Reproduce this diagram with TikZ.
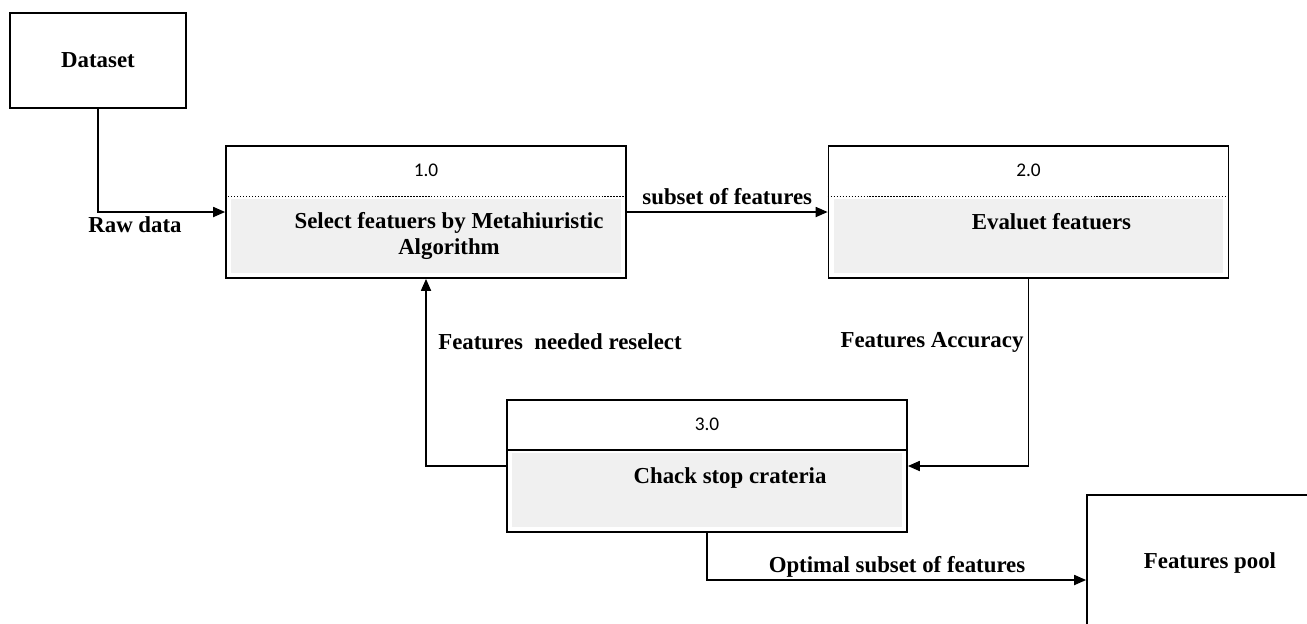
\documentclass[tikz,border=0pt]{standalone}
\usepackage{fontspec}
\setmainfont{Liberation Serif}
\newfontfamily\numfont{Carlito}
\usetikzlibrary{positioning, arrows.meta, calc}
\definecolor{boxgray}{HTML}{F0F0F0}

\begin{document}
\begin{tikzpicture}[x=0.02cm, y=-0.02cm, >={Triangle[length=0.24cm, width=0.2cm]},
		proc/.style={draw, line width=1pt, minimum width=8cm, minimum height=2.64cm, inner sep=0pt},
		ent/.style={draw, line width=1pt, inner sep=0pt},
		flow/.style={->, line width=1pt},
		txt/.style={font=\fontsize{13}{14.7}\selectfont\bfseries},
		num/.style={font=\numfont\fontsize{11}{13}\selectfont}]
		
		\clip (0,0) rectangle (1307,623);
		
		% Source and sink
		\node[ent, txt, minimum width=3.52cm, minimum height=1.9cm] (data) at (98,60.5) {Dataset};
		\node[ent, minimum width=5.06cm, minimum height=3.4cm] (pool) at (1213.5,580) {};
		\node[txt] (poollbl) at (1210,563) {Features pool};
		
		% Process boxes
		\node[proc] (sel) at (426,212) {};
		\node[proc] (eval) at (1028.5,212) {};
		\node[proc] (chk) at (707,466) {};
		
		% Shaded lower parts
		\foreach \p in {sel, eval, chk}
		\fill[boxgray] ($(\p.north west)+(6,54)$) rectangle ($(\p.south east)+(-6,-6)$);
		
		% Header lines
		\draw[densely dotted, line width=0.7pt] ($(sel.north west)+(0,51)$) -- ($(sel.north east)+(0,51)$);
		\draw[densely dotted, line width=0.7pt] ($(eval.north west)+(0,51)$) -- ($(eval.north east)+(0,51)$);
		\draw[line width=1pt] ($(chk.north west)+(0,51)$) -- ($(chk.north east)+(0,51)$);
		
		% Numbers and names
		\node[num] (selnum) at ($(sel.north)+(0,25)$) {1.0};
		\node[num] (evalnum) at ($(eval.north)+(0,25)$) {2.0};
		\node[num] (chknum) at ($(chk.north)+(0,25)$) {3.0};
		\node[txt, align=center, anchor=base] (seltxt) at ($(sel.north)+(23,109)$) {Select featuers by Metahiuristic\\Algorithm};
		\node[txt, anchor=base] (evaltxt) at ($(eval.north)+(23,84)$) {Evaluet featuers};
		\node[txt, anchor=base] (chktxt) at ($(chk.north)+(23,84)$) {Chack stop crateria};
		
		% Data flows
		\draw[flow] (data.south) |- (sel.west);
		\node[txt] (rawlbl) at (135,225) {Raw data};
		
		\draw[flow] (sel.east) -- node[txt, above] (sublbl) {subset of features} (eval.west);
		
		\draw[flow] (eval.south) |- (chk.east);
		\node[txt] (acclbl) at (932,342) {Features Accuracy};
		
		\draw[flow] (chk.west) -| (sel.south);
		\node[txt] (reslbl) at (560,342) {Features\ \ needed reselect};
		
		\draw[flow] (chk.south) |- (pool.west);
		\node[txt] (optlbl) at (897,567) {Optimal subset of features};
		
	\end{tikzpicture}
\end{document}
